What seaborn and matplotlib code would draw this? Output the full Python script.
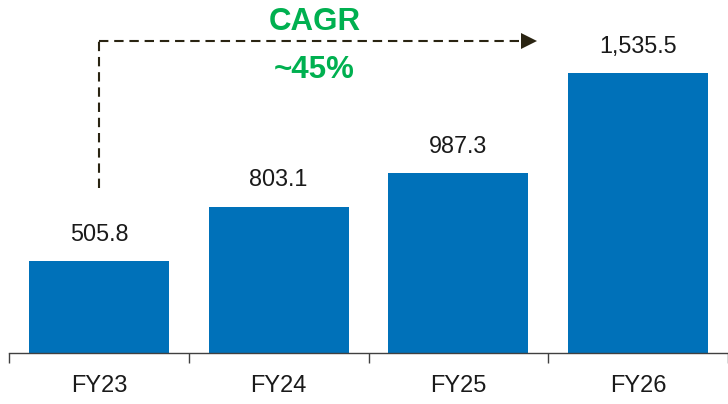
import matplotlib
matplotlib.use("Agg")
import matplotlib.pyplot as plt
import seaborn as sns
import pandas as pd

categories = ["FY23", "FY24", "FY25", "FY26"]
values = [505.8, 803.1, 987.3, 1535.5]
value_labels = ["505.8", "803.1", "987.3", "1,535.5"]
cagr_title = "CAGR"
cagr_value = "~45%"

sns.set_theme(style="white")
plt.rcParams['font.family'] = ['Liberation Sans', 'DejaVu Sans']

BLUE = "#0071b9"
GREEN = "#00b050"
DARK = "#2a2412"

fig = plt.figure(figsize=(7.28, 4.04), dpi=100)
ax = fig.add_axes([9 / 728, 51 / 404, 719 / 728, 353 / 404])

df = pd.DataFrame({"cat": categories, "val": values})
sns.barplot(data=df, x="cat", y="val", color=BLUE, width=0.78, saturation=1,
            ax=ax, edgecolor="none")

ax.set_xlim(-0.5, 3.47)
ax.set_ylim(0, 1936)

for s in ["top", "right", "left"]:
    ax.spines[s].set_visible(False)
ax.spines["bottom"].set_color("#404040")
ax.spines["bottom"].set_linewidth(1.0)
ax.set_yticks([])
ax.set_xlabel("")
ax.set_ylabel("")

# boundaries as major ticks, labels at minor ticks
ax.set_xticks([i - 0.5 for i in range(len(categories) + 1)])
ax.set_xticklabels([])
ax.set_xticks(list(range(len(categories))), minor=True)
ax.set_xticklabels(categories, minor=True, fontsize=17, color="#1a1a1a")
ax.tick_params(axis="x", which="major", direction="out", length=7.5, width=1.0,
               color="#404040", bottom=True)
ax.tick_params(axis="x", which="minor", length=0, pad=15.5)

for i, (v, lab) in enumerate(zip(values, value_labels)):
    ax.annotate(lab, xy=(i, v), xytext=(0, 14.5), textcoords="offset points",
                ha="center", va="baseline", fontsize=16.8, color="#1a1a1a")

# CAGR arrow from FY23 to FY26
y_start = 905
y_line = 1712
ax.plot([0, 0], [y_start, y_line], color=DARK, lw=1.5, linestyle=(0, (4.5, 2.8)),
        dash_capstyle="butt")
ax.plot([0, 2.355], [y_line, y_line], color=DARK, lw=1.5, linestyle=(0, (4.5, 2.8)),
        dash_capstyle="butt")
ax.plot([2.395], [y_line], marker=">", markersize=11, color=DARK, markeredgewidth=0)

ax.text(1.2, 1771, cagr_title, ha="center", va="baseline", fontsize=22.5,
        fontweight="bold", color=GREEN)
ax.text(1.2, 1508, cagr_value, ha="center", va="baseline", fontsize=22.5,
        fontweight="bold", color=GREEN)

fig.savefig("out.png", dpi=100)
